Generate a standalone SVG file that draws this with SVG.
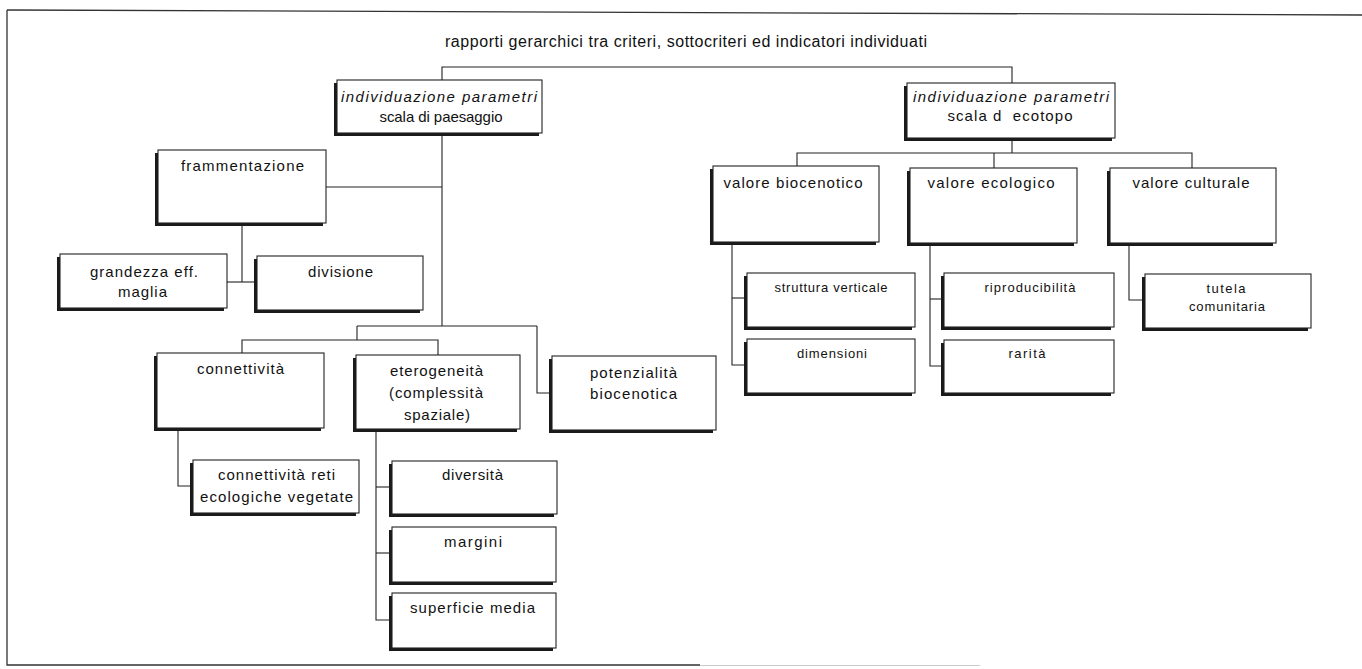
<svg xmlns="http://www.w3.org/2000/svg" width="1362" height="669" viewBox="0 0 1362 669">
<style>
.frame{stroke:#333;stroke-width:1.3;fill:none}
.c{stroke:#222;stroke-width:1.1;fill:none}
.sh{fill:#1a1a1a}
.bx{fill:#fff;stroke:#222;stroke-width:1.1}
text{font-family:"Liberation Sans Narrow","Liberation Sans",Arial,sans-serif;font-size:15px;fill:#111;text-anchor:middle}
.it{font-style:italic}
.s{font-size:13px}
.ti{font-size:16px}
</style>
<rect width="1362" height="669" fill="#fff"/>
<g id="frame">
<path class="frame" d="M7,10 L1362,15"/>
<path class="frame" d="M7,10 V665 H700"/>
<path d="M700,665.5 H980" stroke="#ccc" stroke-width="1" fill="none"/>
</g>
<g id="title">
<text class="ti" x="686" y="47" textLength="482" lengthAdjust="spacing">rapporti gerarchici tra criteri, sottocriteri ed indicatori individuati</text>
</g>
<g id="connectors">
<path class="c" d="M442,80 V67 H1012 V83"/>
<path class="c" d="M442,133 V326"/>
<path class="c" d="M326,187 H442"/>
<path class="c" d="M242,223 V282"/>
<path class="c" d="M227,282 H257"/>
<path class="c" d="M357,326 H537"/>
<path class="c" d="M357,326 V340"/>
<path class="c" d="M242,353 V340 H438 V355"/>
<path class="c" d="M537,326 V393 H552"/>
<path class="c" d="M178,428 V486 H193"/>
<path class="c" d="M376,429 V620 H392"/>
<path class="c" d="M376,487 H392"/>
<path class="c" d="M376,553 H392"/>
<path class="c" d="M1012,138 V153"/>
<path class="c" d="M797,166 V153 H1192 V168"/>
<path class="c" d="M994,153 V168"/>
<path class="c" d="M732,242 V365 H747"/>
<path class="c" d="M732,298 H747"/>
<path class="c" d="M930,243 V366 H944"/>
<path class="c" d="M930,299 H944"/>
<path class="c" d="M1129,243 V300 H1145"/>
</g>
<g id="n-paesaggio">
<rect class="sh" x="334" y="83" width="205" height="53"/>
<rect class="bx" x="337" y="80" width="205" height="53"/>
<text class="it" x="439" y="102" textLength="196" lengthAdjust="spacing">individuazione parametri</text>
<text x="441" y="122" textLength="123" lengthAdjust="spacing">scala di paesaggio</text>
</g>
<g id="n-ecotopo">
<rect class="sh" x="904" y="86" width="208" height="55"/>
<rect class="bx" x="907" y="83" width="208" height="55"/>
<text class="it" x="1011" y="102" textLength="196" lengthAdjust="spacing">individuazione parametri</text>
<text x="1010" y="121" textLength="125" lengthAdjust="spacing" xml:space="preserve">scala d  ecotopo</text>
</g>
<g id="n-frammentazione">
<rect class="sh" x="155" y="153" width="168" height="73"/>
<rect class="bx" x="158" y="150" width="168" height="73"/>
<text x="242.5" y="171" textLength="123" lengthAdjust="spacing">frammentazione</text>
</g>
<g id="n-grandezza">
<rect class="sh" x="57" y="257" width="167" height="54"/>
<rect class="bx" x="60" y="254" width="167" height="54"/>
<text x="144" y="277" textLength="108" lengthAdjust="spacing">grandezza eff.</text>
<text x="142.5" y="297" textLength="49" lengthAdjust="spacing">maglia</text>
</g>
<g id="n-divisione">
<rect class="sh" x="254" y="259" width="166" height="54"/>
<rect class="bx" x="257" y="256" width="166" height="54"/>
<text x="340.5" y="277" textLength="65" lengthAdjust="spacing">divisione</text>
</g>
<g id="n-connettivita">
<rect class="sh" x="154" y="356" width="167" height="75"/>
<rect class="bx" x="157" y="353" width="167" height="75"/>
<text x="240.5" y="374" textLength="87" lengthAdjust="spacing">connettività</text>
</g>
<g id="n-eterogeneita">
<rect class="sh" x="353" y="358" width="164" height="74"/>
<rect class="bx" x="356" y="355" width="164" height="74"/>
<text x="436.5" y="376" textLength="93" lengthAdjust="spacing">eterogeneità</text>
<text x="436" y="398" textLength="94" lengthAdjust="spacing">(complessità</text>
<text x="437" y="420" textLength="66" lengthAdjust="spacing">spaziale)</text>
</g>
<g id="n-potenzialita">
<rect class="sh" x="549" y="359" width="164" height="74"/>
<rect class="bx" x="552" y="356" width="164" height="74"/>
<text x="633.5" y="378" textLength="87" lengthAdjust="spacing">potenzialità</text>
<text x="633.5" y="399" textLength="87" lengthAdjust="spacing">biocenotica</text>
</g>
<g id="n-reti">
<rect class="sh" x="190" y="463" width="166" height="53"/>
<rect class="bx" x="193" y="460" width="166" height="53"/>
<text x="276.5" y="480" textLength="117" lengthAdjust="spacing">connettività reti</text>
<text x="276.5" y="502" textLength="153" lengthAdjust="spacing">ecologiche vegetate</text>
</g>
<g id="n-diversita">
<rect class="sh" x="389" y="464" width="165" height="53"/>
<rect class="bx" x="392" y="461" width="165" height="53"/>
<text x="472.5" y="480" textLength="61" lengthAdjust="spacing">diversità</text>
</g>
<g id="n-margini">
<rect class="sh" x="389" y="530" width="164" height="55"/>
<rect class="bx" x="392" y="527" width="164" height="55"/>
<text x="473" y="547" textLength="58" lengthAdjust="spacing">margini</text>
</g>
<g id="n-superficie">
<rect class="sh" x="389" y="596" width="164" height="55"/>
<rect class="bx" x="392" y="593" width="164" height="55"/>
<text x="472.5" y="613" textLength="125" lengthAdjust="spacing">superficie media</text>
</g>
<g id="n-biocenotico">
<rect class="sh" x="710" y="169" width="166" height="76"/>
<rect class="bx" x="713" y="166" width="166" height="76"/>
<text x="793" y="188" textLength="139" lengthAdjust="spacing">valore biocenotico</text>
</g>
<g id="n-ecologico">
<rect class="sh" x="907" y="171" width="167" height="75"/>
<rect class="bx" x="910" y="168" width="167" height="75"/>
<text x="991" y="188" textLength="127" lengthAdjust="spacing">valore ecologico</text>
</g>
<g id="n-culturale">
<rect class="sh" x="1107" y="171" width="166" height="75"/>
<rect class="bx" x="1110" y="168" width="166" height="75"/>
<text x="1191" y="188" textLength="117" lengthAdjust="spacing">valore culturale</text>
</g>
<g id="n-struttura">
<rect class="sh" x="744" y="276" width="168" height="54"/>
<rect class="bx" x="747" y="273" width="168" height="54"/>
<text class="s" x="831" y="292" textLength="113" lengthAdjust="spacing">struttura verticale</text>
</g>
<g id="n-dimensioni">
<rect class="sh" x="744" y="342" width="168" height="54"/>
<rect class="bx" x="747" y="339" width="168" height="54"/>
<text class="s" x="832" y="358" textLength="70" lengthAdjust="spacing">dimensioni</text>
</g>
<g id="n-riproducibilita">
<rect class="sh" x="941" y="276" width="170" height="54"/>
<rect class="bx" x="944" y="273" width="170" height="54"/>
<text class="s" x="1030" y="292" textLength="91" lengthAdjust="spacing">riproducibilità</text>
</g>
<g id="n-rarita">
<rect class="sh" x="941" y="343" width="170" height="53"/>
<rect class="bx" x="944" y="340" width="170" height="53"/>
<text class="s" x="1027" y="358" textLength="37" lengthAdjust="spacing">rarità</text>
</g>
<g id="n-tutela">
<rect class="sh" x="1142" y="277" width="166" height="54"/>
<rect class="bx" x="1145" y="274" width="166" height="54"/>
<text class="s" x="1226" y="293" textLength="39" lengthAdjust="spacing">tutela</text>
<text class="s" x="1227" y="311" textLength="76" lengthAdjust="spacing">comunitaria</text>
</g>
</svg>
